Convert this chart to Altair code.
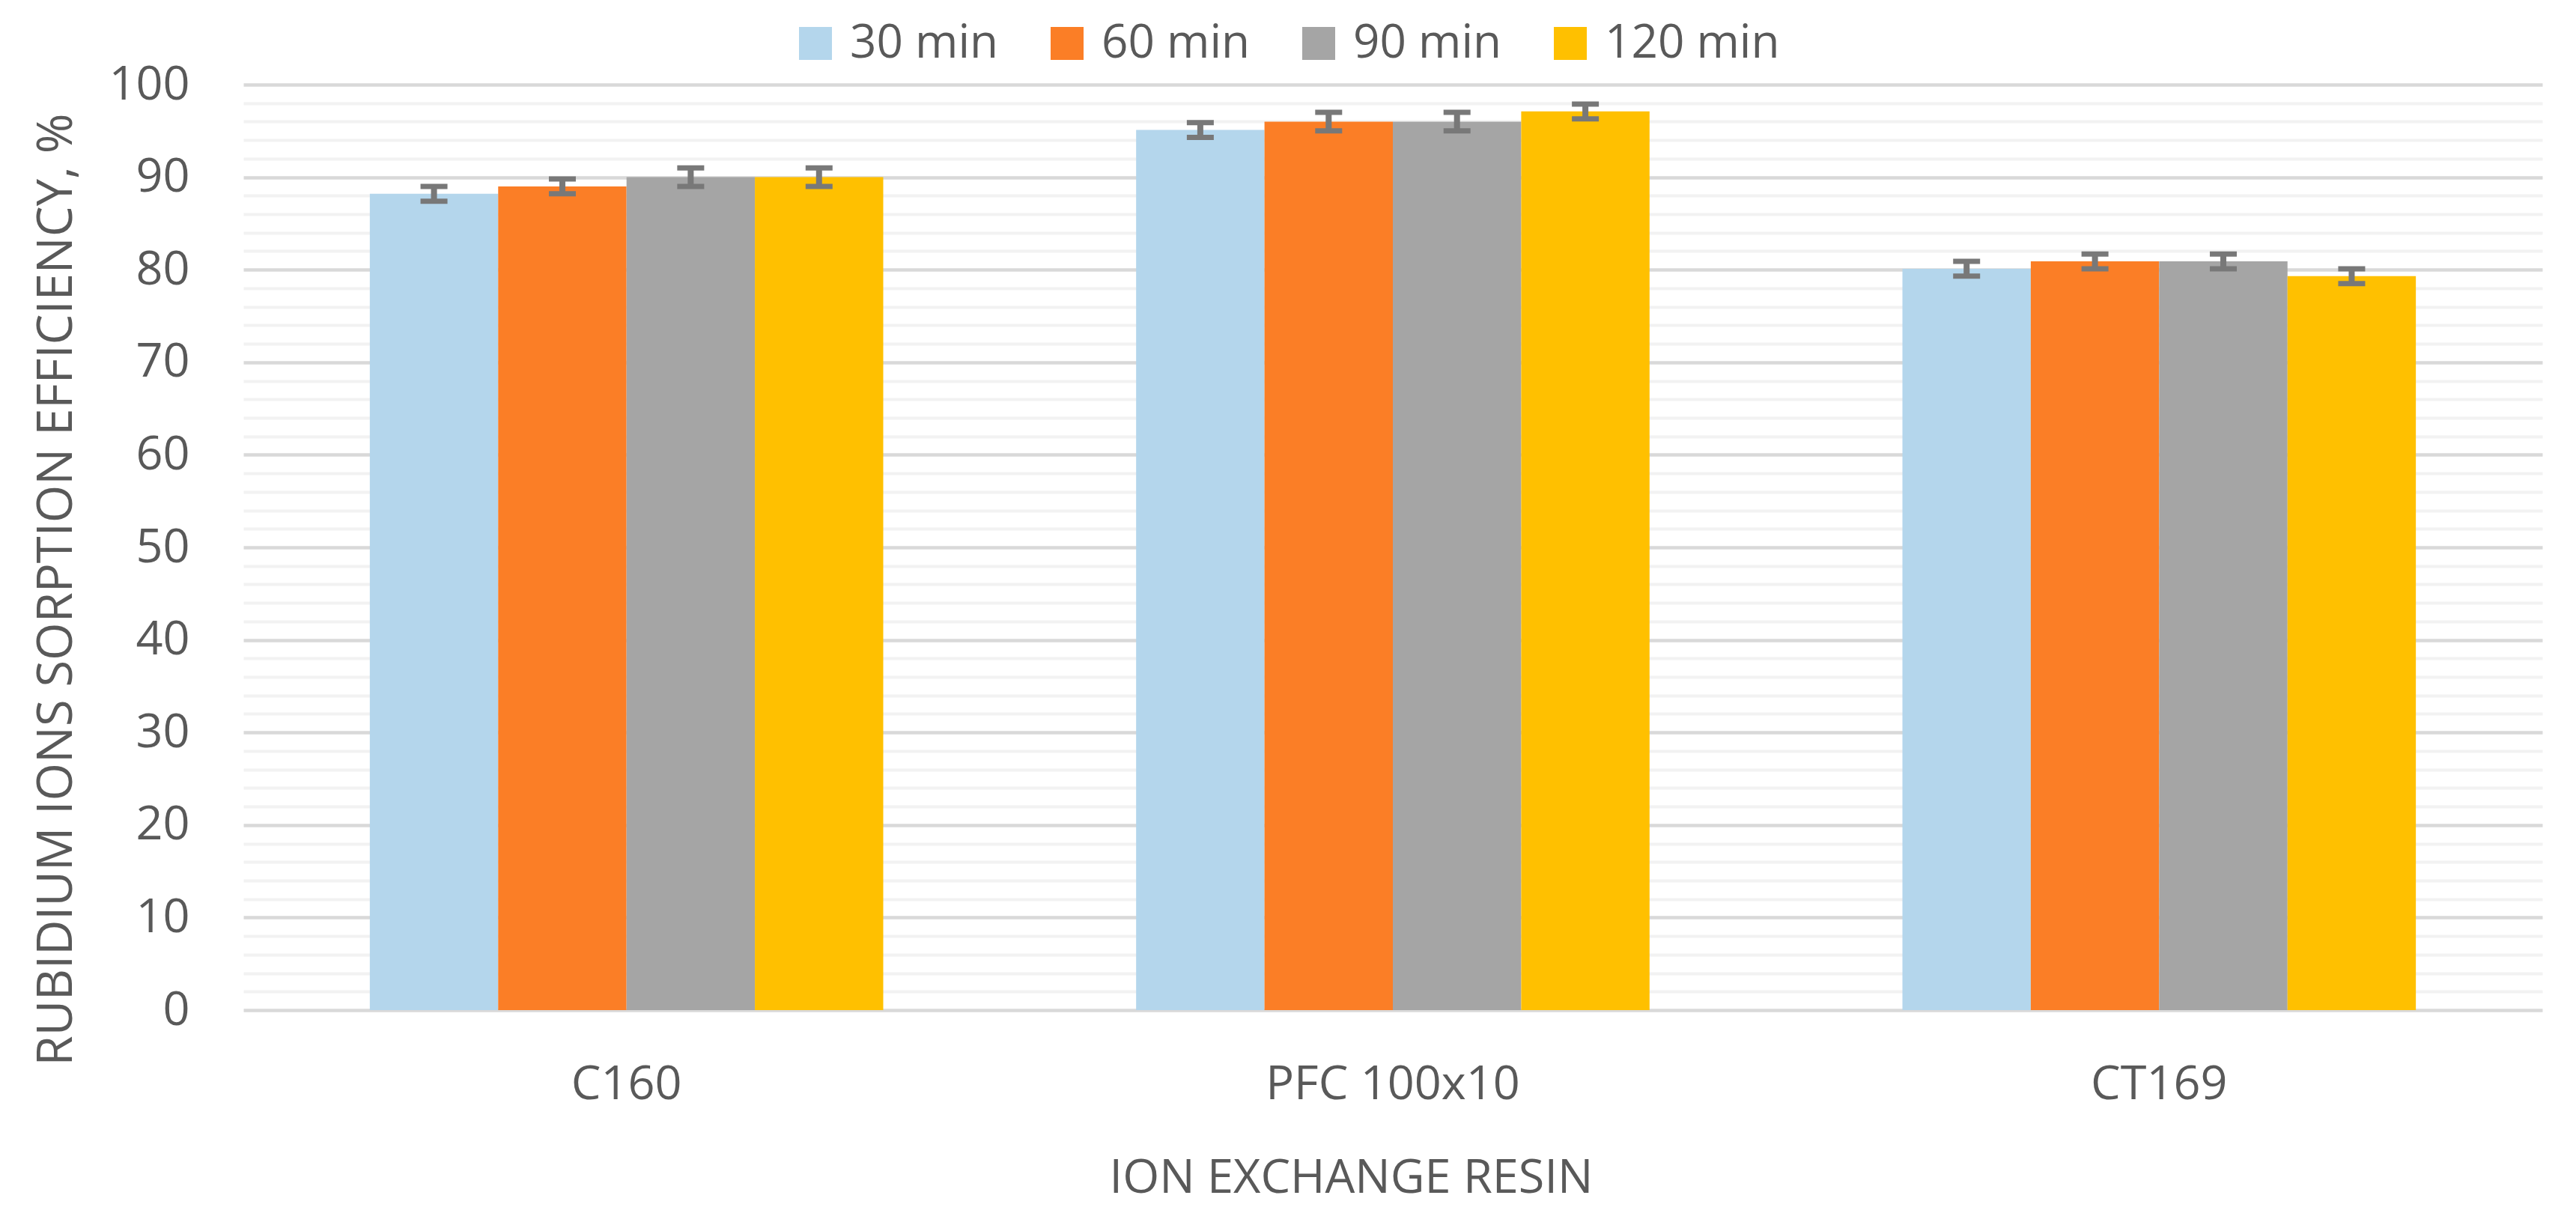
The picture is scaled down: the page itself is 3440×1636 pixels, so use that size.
import altair as alt
import pandas as pd

resins = ["C160", "PFC 100x10", "CT169"]
times = ["30 min", "60 min", "90 min", "120 min"]
colors = ["#B4D6EC", "#FB7E26", "#A5A5A5", "#FFC000"]

# sorption efficiency (%) per time, in resin order
v30 = [88.2, 95.1, 80.1]
v60 = [89.0, 96.0, 80.9]
v90 = [90.0, 96.0, 80.9]
v120 = [90.0, 97.1, 79.3]

# error bar half-widths
e30 = [0.8, 0.8, 0.8]
e60 = [0.8, 1.0, 0.8]
e90 = [1.0, 1.0, 0.8]
e120 = [1.0, 0.8, 0.8]

major_ticks = list(range(0, 101, 10))
minor_ticks = [t for t in range(0, 101, 2) if t % 10 != 0]

rows = []
for t, vals, errs in zip(times, [v30, v60, v90, v120], [e30, e60, e90, e120]):
    for r, v, e in zip(resins, vals, errs):
        rows.append({"resin": r, "time": t, "value": v, "lo": v - e, "hi": v + e})
df = pd.DataFrame(rows)

FONT = "Open Sans"
TXT = "#595959"
ERR = "#787878"

xenc = alt.X(
    "resin:N",
    sort=resins,
    scale=alt.Scale(paddingInner=0.33, paddingOuter=0.165),
    axis=alt.Axis(
        labelAngle=0, labelFont=FONT, labelFontSize=63, labelColor=TXT,
        labelPadding=68, labelLimit=0, domain=False, ticks=False,
        title="ION EXCHANGE RESIN", titleFont=FONT, titleFontSize=63,
        titleFontWeight="normal", titleColor=TXT,
        titleX=1479, titleY=193, titleAlign="center", titleBaseline="top",
    ),
)
xoff = alt.XOffset("time:N", sort=times, scale=alt.Scale(paddingInner=0, paddingOuter=0))
yscale = alt.Scale(domain=[0, 100], nice=False, zero=True)

base = alt.Chart(df).encode(x=xenc, xOffset=xoff)

minor = base.mark_bar(opacity=0).encode(
    y=alt.Y("value:Q", scale=yscale,
            axis=alt.Axis(values=minor_ticks, orient="right", grid=True,
                          gridColor="#F2F2F2", gridWidth=4, labels=False,
                          ticks=False, domain=False, title=None)),
)

bars = base.mark_bar().encode(
    y=alt.Y("value:Q", scale=yscale,
            axis=alt.Axis(values=major_ticks, orient="left", grid=True,
                          gridColor="#D9D9D9", gridWidth=4.5, domain=False,
                          ticks=False, labelFont=FONT, labelFontSize=63,
                          labelColor=TXT, labelPadding=72,
                          title="RUBIDIUM IONS SORPTION EFFICIENCY, %",
                          titleFont=FONT, titleFontSize=65,
                          titleFontWeight="normal", titleColor=TXT,
                          titleAngle=270, titleX=-250, titleY=674,
                          titleAlign="center", titleBaseline="middle")),
    color=alt.Color(
        "time:N", sort=times,
        scale=alt.Scale(domain=times, range=colors),
        legend=alt.Legend(
            orient="none", legendX=733, legendY=-86, direction="horizontal",
            columns=4, title=None, symbolType="square", symbolSize=1936,
            symbolStrokeWidth=0, symbolOpacity=1, labelFont=FONT,
            labelFontSize=62, labelColor=TXT, labelOffset=15,
            columnPadding=60, labelLimit=0,
        ),
    ),
)

stems = base.mark_rule(color=ERR, strokeWidth=8).encode(
    y=alt.Y("lo:Q", scale=yscale, axis=None), y2="hi:Q"
)
caps_lo = base.mark_tick(color=ERR, thickness=7, size=36, opacity=1).encode(
    y=alt.Y("lo:Q", scale=yscale, axis=None)
)
caps_hi = base.mark_tick(color=ERR, thickness=7, size=36, opacity=1).encode(
    y=alt.Y("hi:Q", scale=yscale, axis=None)
)

chart = (
    alt.layer(minor, bars, stems, caps_lo, caps_hi)
    .resolve_axis(y="independent")
    .properties(
        width=3070, height=1236,
        autosize=alt.AutoSizeParams(type="none"),
        padding={"left": 317, "top": 105, "right": 37, "bottom": 279},
        background="white",
    )
    .configure_view(stroke=None)
)

chart.save("out.html", embed_options={"renderer": "svg", "actions": False})
